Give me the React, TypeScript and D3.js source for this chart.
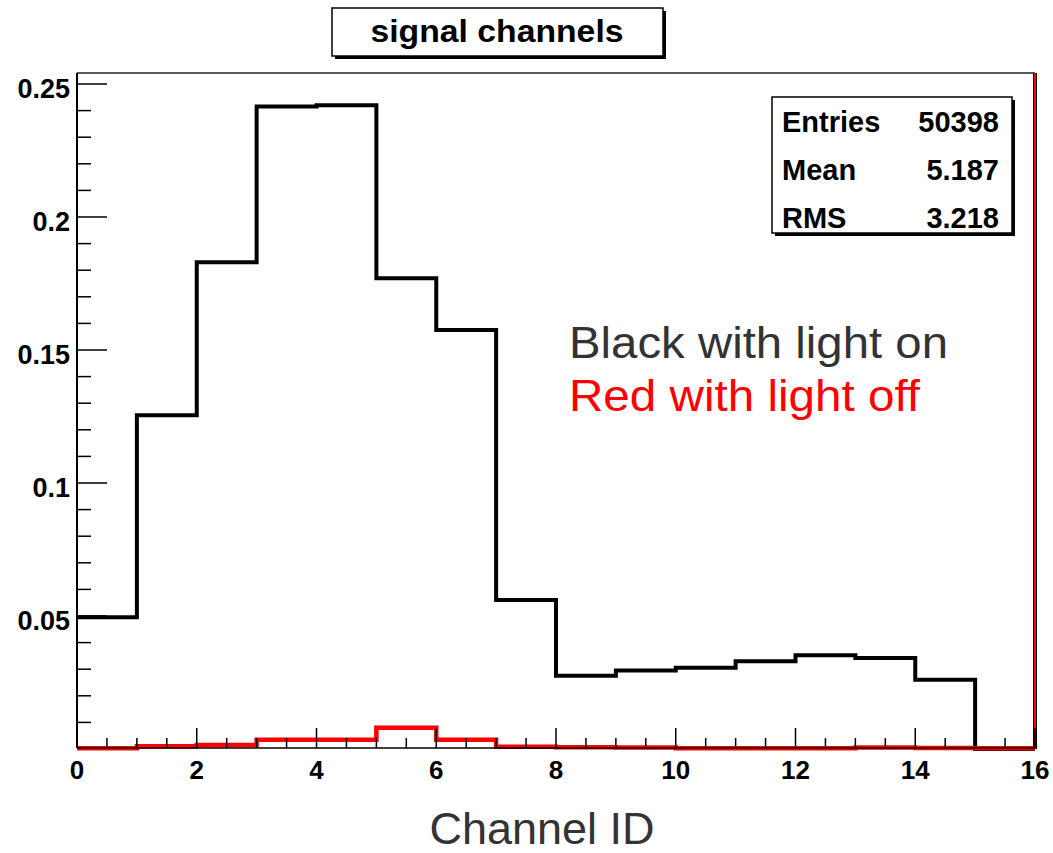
import React from "react";
import * as d3 from "d3";

// Channel bins 0..15 (unit width), normalised counts
const channels = d3.range(16);
const lightOn = [
  0.0495, 0.1255, 0.1830, 0.2415, 0.2420, 0.1770, 0.1575, 0.0560,
  0.0275, 0.0295, 0.0305, 0.0330, 0.0352, 0.0342, 0.0260, 0.0,
];
const lightOff = [
  0.0003, 0.0010, 0.0015, 0.0035, 0.0035, 0.0080, 0.0035, 0.0008,
  0.0007, 0.0006, 0.0003, 0.0003, 0.0003, 0.0006, 0.0004, 0.0003,
];

const xMajorTicks = d3.range(0, 17, 2);
const xMinorTicks = d3.range(0, 16.01, 0.5);
const yMajorTicks = [0.05, 0.1, 0.15, 0.2, 0.25];
const yMinorTicks = d3.range(1, 26).map((i) => i * 0.01);

const titleText = "signal channels";
const statsRows: [string, string][] = [
  ["Entries", "50398"],
  ["Mean", "5.187"],
  ["RMS", "3.218"],
];
const xAxisTitle = "Channel ID";
const noteOn = "Black with light on";
const noteOff = "Red with light off";

const W = 1053;
const H = 853;
const left = 77;
const right = 1035;
const top = 73;
const bottom = 749;

const FONT = "'Liberation Sans', Arial, Helvetica, sans-serif";

export default function App() {
  const x = d3.scaleLinear().domain([0, 16]).range([left, right]);
  const y = d3.scaleLinear().domain([0, (bottom - top) / 2660]).range([bottom, top]);

  // histogram outline: starts at the first bin's top, ends dropping to zero at x=16
  const stepPath = (vals: number[]) => {
    const pts: [number, number][] = vals.map((v, i) => [channels[i], v]);
    pts.push([16, vals[vals.length - 1]]);
    pts.push([16, 0]);
    const line = d3
      .line<[number, number]>()
      .x((d) => x(d[0]))
      .y((d) => y(d[1]))
      .curve(d3.curveStepAfter);
    return line(pts) || "";
  };

  const axisY = bottom - 1;

  return (
    <svg
      width={W}
      height={H}
      style={{ position: "absolute", left: 0, top: 0, background: "#fff" }}
      fontFamily={FONT}
    >
      <rect x={0} y={0} width={W} height={H} fill="#fff" />

      {/* frame */}
      <line x1={left} x2={right} y1={top} y2={top} stroke="#222" strokeWidth={1.5} />

      {/* histograms */}
      <path d={stepPath(lightOn)} fill="none" stroke="#000" strokeWidth={4} strokeLinejoin="miter" />
      <path d={stepPath(lightOff)} fill="none" stroke="#ff0000" strokeWidth={4.5} strokeLinejoin="miter" />

      {/* right frame edge */}
      <line x1={right} x2={right} y1={top} y2={axisY + 1} stroke="#000" strokeWidth={4} />
      <line x1={right} x2={right} y1={top} y2={axisY + 1} stroke="#ff0000" strokeWidth={2} />

      {/* y axis */}
      <line x1={left} x2={left} y1={top} y2={axisY} stroke="#000" strokeWidth={2} />
      {yMinorTicks.map((t) => {
        const major = yMajorTicks.some((m) => Math.abs(m - t) < 1e-9);
        return (
          <line
            key={`ym${t}`}
            x1={left}
            x2={left + (major ? 30 : 14)}
            y1={y(t)}
            y2={y(t)}
            stroke="#000"
            strokeWidth={1.5}
          />
        );
      })}
      {yMajorTicks.map((t) => (
        <text
          key={`yl${t}`}
          x={70}
          y={y(t) + 14}
          textAnchor="end"
          fontSize={27}
          fontWeight="bold"
          fill="#000"
        >
          {d3.format("~g")(t)}
        </text>
      ))}

      {/* x axis */}
      <line x1={left} x2={right} y1={axisY} y2={axisY} stroke="#000" strokeWidth={1.5} />
      {xMinorTicks.map((t) => {
        const major = xMajorTicks.includes(t);
        return (
          <line
            key={`xm${t}`}
            x1={x(t)}
            x2={x(t)}
            y1={axisY}
            y2={axisY - (major ? 20 : 10)}
            stroke="#000"
            strokeWidth={1.5}
          />
        );
      })}
      {xMajorTicks.map((t) => (
        <text
          key={`xl${t}`}
          x={x(t)}
          y={779}
          textAnchor="middle"
          fontSize={26}
          fontWeight="bold"
          fill="#000"
        >
          {t}
        </text>
      ))}

      {/* title box */}
      <rect x={335} y={11} width={331} height={48} fill="#000" />
      <rect x={332} y={8} width={331} height={48} fill="#fff" stroke="#000" strokeWidth={1.5} />
      <text
        x={497}
        y={42}
        textAnchor="middle"
        fontSize={32}
        fontWeight="bold"
        textLength={253}
        lengthAdjust="spacingAndGlyphs"
      >
        {titleText}
      </text>

      {/* statistics box */}
      <rect x={775} y={100} width={240} height={136} fill="#000" />
      <rect x={772} y={97} width={240} height={136} fill="#fff" stroke="#000" strokeWidth={1.5} />
      {statsRows.map(([k, v], i) => (
        <g key={k}>
          <text x={782} y={132 + i * 48} fontSize={29} fontWeight="bold">
            {k}
          </text>
          <text x={999} y={132 + i * 48} fontSize={29} fontWeight="bold" textAnchor="end">
            {v}
          </text>
        </g>
      ))}

      {/* annotations */}
      <text x={569} y={358} fontSize={45} fill="#333" textLength={379} lengthAdjust="spacingAndGlyphs">
        {noteOn}
      </text>
      <text x={569} y={411} fontSize={45} fill="#ff0000" textLength={351} lengthAdjust="spacingAndGlyphs">
        {noteOff}
      </text>

      <text x={542} y={844} textAnchor="middle" fontSize={45} fill="#333">
        {xAxisTitle}
      </text>
    </svg>
  );
}
